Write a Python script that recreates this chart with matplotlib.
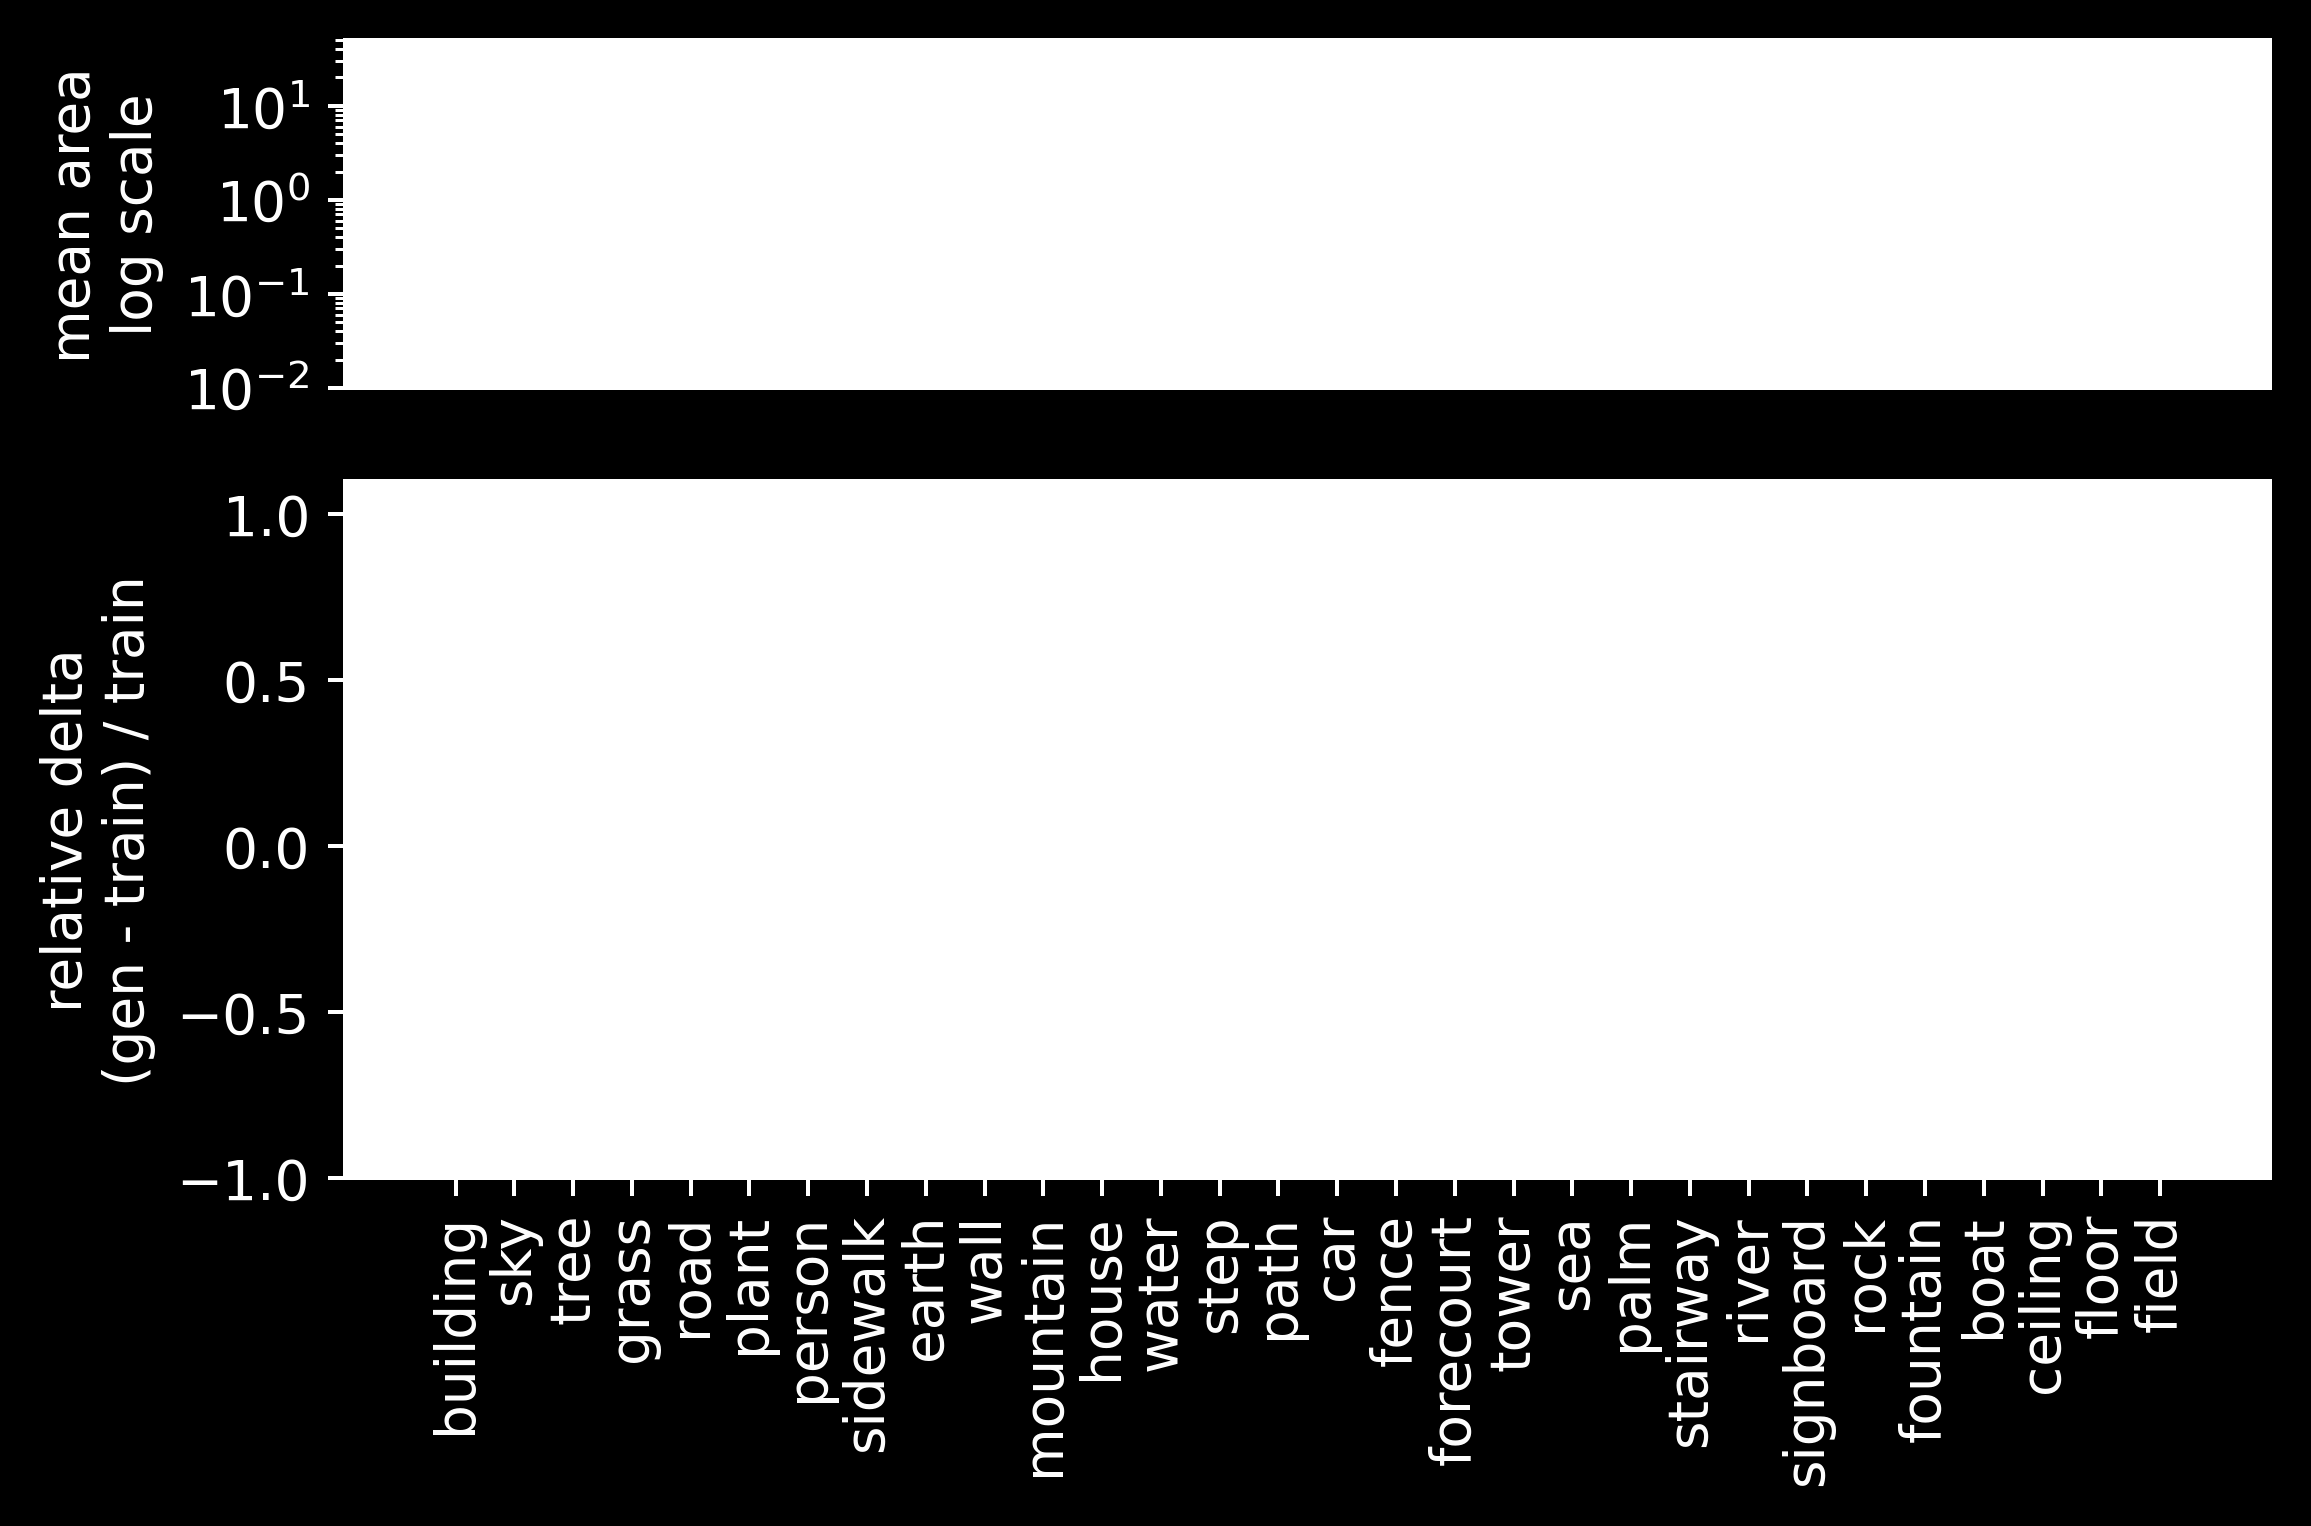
import matplotlib
matplotlib.use("Agg")
import matplotlib.pyplot as plt
import numpy as np

categories = ["building", "sky", "tree", "grass", "road", "plant", "person",
              "sidewalk", "earth", "wall", "mountain", "house", "water", "step",
              "path", "car", "fence", "forecourt", "tower", "sea", "palm",
              "stairway", "river", "signboard", "rock", "fountain", "boat",
              "ceiling", "floor", "field"]

plt.style.use("dark_background")
plt.rcParams["font.size"] = 11
DPI = 360
fig = plt.figure(figsize=(2311 / DPI, 1527 / DPI), dpi=DPI)
W, H = 2311, 1527
left, right = 345 / W, 2270 / W
ax1 = fig.add_axes([left, 1 - 389 / H, right - left, (389 - 41) / H])
ax2 = fig.add_axes([left, 1 - 1179 / H, right - left, (1179 - 482) / H])

x = np.arange(len(categories))
for ax in (ax1, ax2):
    ax.set_facecolor("white")
    ax.set_xlim(-1.88, 30.87)

ax1.set_yscale("log")
ax1.set_ylim(0.01, 50)
ax1.set_xticks([])
ax1.set_ylabel("mean area\nlog scale")

ax2.set_ylim(-1.0, 1.1)
ax2.set_yticks([-1.0, -0.5, 0.0, 0.5, 1.0])
ax2.set_xticks(x)
ax2.set_xticklabels(categories, rotation=90)
ax2.set_ylabel("relative delta\n(gen - train) / train")

fig.savefig("out.png", dpi=DPI, facecolor="black")
